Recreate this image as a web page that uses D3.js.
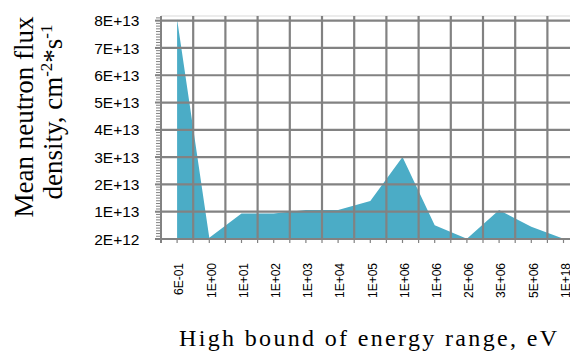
<!DOCTYPE html>
<html>
<head>
  <meta charset="UTF-8">
  <style>
    body { margin: 0; background: #fff; }
    svg { display: block; }
  </style>
</head>
<body>
<svg></svg>
<script src="https://d3js.org/d3.v7.min.js"></script>
<script>

// energy bins (high bound) and mean flux
let categories = ["6E-01", "1E+00", "1E+01", "1E+02", "1E+03", "1E+04", "1E+05",
                  "1E+06", "1E+06", "2E+06", "3E+06", "5E+06", "1E+18"];
let flux = [8.25e13, 2.5e12, 1.13e13, 1.13e13, 1.26e13, 1.26e13, 1.59e13,
            3.2e13, 7.0e12, 2.05e12, 1.26e13, 6.5e12, 2.05e12];
let yMin = 2e12, yMajor = 1e13, yMinor = 1e12, yTop = 8.37e13;

let width = 570, height = 358;
let svg = d3.select("svg").attr("width", width).attr("height", height);

let plotLeft = 161, plotTop = 16, plotBottom = 239, band = 32.2;
let gridColor = "#828282";

let x = d3.scaleBand()
    .domain(d3.range(categories.length))
    .range([plotLeft, plotLeft + band * categories.length])
    .padding(0);
let cx = i => x(i) + x.bandwidth() / 2;

let y = d3.scaleLinear().domain([yMin, yTop]).range([plotBottom, plotTop]);

// Excel style "0E+00"
let sci = v => {
    let e = Math.floor(Math.log10(Math.abs(v)));
    let m = Math.round(v / Math.pow(10, e));
    if (m >= 10) { m = 1; e += 1; }
    return m + "E" + (e < 0 ? "-" : "+") + String(Math.abs(e)).padStart(2, "0");
};

let majorTicks = d3.range(yMin, yTop, yMajor);
let minorTicks = d3.range(yMin, yTop, yMinor);

// area
let area = d3.area()
    .x((d, i) => cx(i))
    .y0(y(yMin))
    .y1(d => y(d));
svg.append("path")
    .datum(flux)
    .attr("d", area)
    .attr("fill", "#4bacc6");

// gridlines drawn above the fill like the original
let grid = svg.append("g");
grid.append("line")
    .attr("x1", plotLeft).attr("x2", width)
    .attr("y1", plotTop).attr("y2", plotTop)
    .attr("stroke", "#d9d9d9").attr("stroke-width", 1);
grid.selectAll(".hg")
    .data(majorTicks.slice(1))
    .enter().append("line")
    .attr("x1", plotLeft).attr("x2", width)
    .attr("y1", d => y(d)).attr("y2", d => y(d))
    .attr("stroke", gridColor).attr("stroke-width", 2.2);
grid.selectAll(".vg")
    .data(d3.range(1, categories.length))
    .enter().append("line")
    .attr("x1", i => x(i)).attr("x2", i => x(i))
    .attr("y1", plotTop).attr("y2", plotBottom)
    .attr("stroke", gridColor).attr("stroke-width", 2.2);

// y axis
let yAxis = svg.append("g");
yAxis.selectAll(".minor")
    .data(minorTicks)
    .enter().append("line")
    .attr("x1", plotLeft - 5).attr("x2", plotLeft)
    .attr("y1", d => y(d)).attr("y2", d => y(d))
    .attr("stroke", gridColor).attr("stroke-width", 1);
yAxis.selectAll(".major")
    .data(majorTicks)
    .enter().append("line")
    .attr("x1", plotLeft - 6).attr("x2", plotLeft)
    .attr("y1", d => y(d)).attr("y2", d => y(d))
    .attr("stroke", gridColor).attr("stroke-width", 2);
yAxis.append("line")
    .attr("x1", plotLeft).attr("x2", plotLeft)
    .attr("y1", plotTop).attr("y2", plotBottom + 4)
    .attr("stroke", gridColor).attr("stroke-width", 2);
yAxis.selectAll("text")
    .data(majorTicks)
    .enter().append("text")
    .attr("x", 139.5)
    .attr("y", d => y(d))
    .attr("dy", "0.36em")
    .attr("text-anchor", "end")
    .attr("font-family", "Liberation Sans")
    .attr("font-size", 15.5)
    .attr("fill", "#000")
    .text(d => sci(d));

// x axis
let xAxis = svg.append("g");
xAxis.append("line")
    .attr("x1", plotLeft).attr("x2", width)
    .attr("y1", plotBottom).attr("y2", plotBottom)
    .attr("stroke", gridColor).attr("stroke-width", 2);
let xTicks = d3.range(1, categories.length).map(i => x(i))
    .concat(d3.range(categories.length).map(i => cx(i)));
xAxis.selectAll(".xt")
    .data(xTicks)
    .enter().append("line")
    .attr("x1", d => d).attr("x2", d => d)
    .attr("y1", plotBottom).attr("y2", plotBottom + 4)
    .attr("stroke", gridColor).attr("stroke-width", 1.2);
xAxis.selectAll("text")
    .data(categories)
    .enter().append("text")
    .attr("transform", (d, i) => "translate(" + (cx(i) + 2) + ",263) rotate(-90)")
    .attr("dy", "0.36em")
    .attr("text-anchor", "end")
    .attr("font-family", "Liberation Sans")
    .attr("font-size", 12)
    .attr("fill", "#000")
    .text(d => d);

// axis titles
svg.append("text")
    .attr("x", 179)
    .attr("y", 346)
    .attr("font-family", "Liberation Serif")
    .attr("font-size", 24)
    .attr("textLength", 378)
    .attr("lengthAdjust", "spacing")
    .text("High bound of energy range, eV");

let yTitle = svg.append("g")
    .attr("font-family", "Liberation Serif")
    .attr("font-size", 27)
    .attr("text-anchor", "middle");
yTitle.append("text")
    .attr("transform", "translate(33,117) rotate(-90)")
    .text("Mean neutron flux");
let t2 = yTitle.append("text")
    .attr("transform", "translate(62,112) rotate(-90)");
t2.append("tspan").text("density, cm");
t2.append("tspan").attr("font-size", 17).attr("dy", -10).text("-2");
t2.append("tspan").attr("dy", 10).text("*s");
t2.append("tspan").attr("font-size", 17).attr("dy", -10).text("-1");

</script>
</body>
</html>
